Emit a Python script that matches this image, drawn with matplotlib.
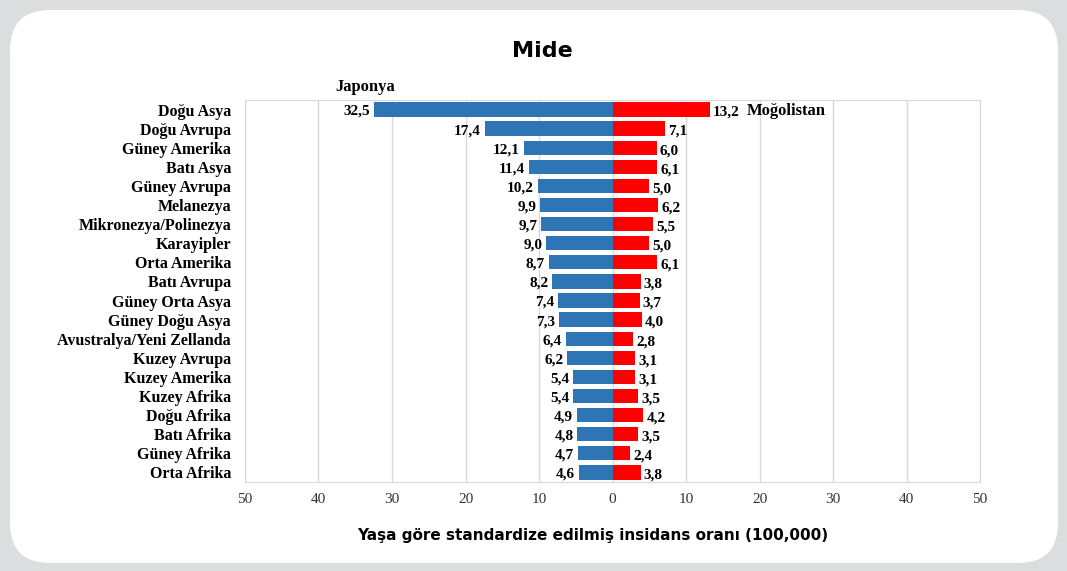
import numpy as np
import matplotlib.pyplot as plt
from matplotlib.patches import FancyBboxPatch

# Data
regions = ["Doğu Asya", "Doğu Avrupa", "Güney Amerika", "Batı Asya", "Güney Avrupa",
           "Melanezya", "Mikronezya/Polinezya", "Karayipler", "Orta Amerika", "Batı Avrupa",
           "Güney Orta Asya", "Güney Doğu Asya", "Avustralya/Yeni Zellanda", "Kuzey Avrupa",
           "Kuzey Amerika", "Kuzey Afrika", "Doğu Afrika", "Batı Afrika", "Güney Afrika",
           "Orta Afrika"]
left_vals = [32.5, 17.4, 12.1, 11.4, 10.2, 9.9, 9.7, 9.0, 8.7, 8.2,
             7.4, 7.3, 6.4, 6.2, 5.4, 5.4, 4.9, 4.8, 4.7, 4.6]
right_vals = [13.2, 7.1, 6.0, 6.1, 5.0, 6.2, 5.5, 5.0, 6.1, 3.8,
              3.7, 4.0, 2.8, 3.1, 3.1, 3.5, 4.2, 3.5, 2.4, 3.8]
tick_vals = [-50, -40, -30, -20, -10, 0, 10, 20, 30, 40, 50]

blue = "#2e75b6"
red = "#ff0000"

fig = plt.figure(figsize=(10.67, 5.71), dpi=100)
fig.patch.set_facecolor("#dcdddf")

# white rounded panel behind everything
panel = FancyBboxPatch((0.10, 0.08), 10.48, 5.53,
                       boxstyle="round,pad=0,rounding_size=0.4",
                       transform=fig.dpi_scale_trans, facecolor="white",
                       edgecolor="none", zorder=-10)
fig.patches.append(panel)

ax = fig.add_axes([0.2296, 0.1559, 0.689, 0.669])
ax.set_zorder(1)
ax.set_facecolor("white")

y = np.arange(len(regions))
ax.barh(y, -np.array(left_vals), height=0.75, color=blue, zorder=3)
ax.barh(y, right_vals, height=0.75, color=red, zorder=3)

serif = "Liberation Serif"
for i in range(len(regions)):
    ax.text(-left_vals[i] - 0.5, y[i] + 0.1, f"{left_vals[i]:.1f}".replace(".", ","),
            ha="right", va="center", fontsize=11, fontweight="bold", family=serif)
    ax.text(right_vals[i] + 0.4, y[i] + 0.15, f"{right_vals[i]:.1f}".replace(".", ","),
            ha="left", va="center", fontsize=11, fontweight="bold", family=serif)

ax.set_ylim(len(regions) - 0.5, -0.5)
ax.set_xlim(-50, 50)
ax.set_yticks(y)
ax.set_yticklabels(regions, fontsize=11.5, fontweight="bold", family=serif)
ax.set_xticks(tick_vals)
ax.set_xticklabels([str(abs(v)) for v in tick_vals], fontsize=11, family=serif, color="#333333")
ax.tick_params(length=0, pad=8)
ax.tick_params(axis="y", pad=10)
ax.grid(axis="x", color="#d9d9d9", linewidth=1, zorder=0)
ax.set_axisbelow(True)
for s in ax.spines.values():
    s.set_color("#d9d9d9")

ax.text(-33.6, -0.75, "Japonya", ha="center", va="bottom", fontsize=12,
        fontweight="bold", family=serif)
ax.text(13.2 + 5.0, 0.1, "Moğolistan", ha="left", va="center", fontsize=12,
        fontweight="bold", family=serif)

fig.text(0.508, 0.91, "Mide", ha="center", va="center", fontsize=16, fontweight="bold")
fig.text(0.555, 0.063, "Yaşa göre standardize edilmiş insidans oranı (100,000)",
         ha="center", va="center", fontsize=11, fontweight="bold")

fig.savefig("out.png", dpi=100, facecolor=fig.get_facecolor())
